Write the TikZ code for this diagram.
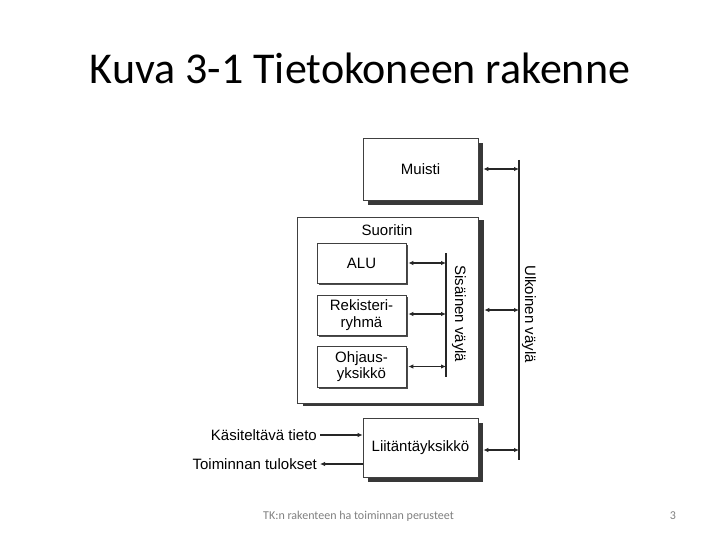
\documentclass[tikz,border=0pt]{standalone}
\usepackage{fontspec}
\setmainfont{Liberation Sans}
\newfontfamily\calibri{Carlito}
\usetikzlibrary{arrows.meta,shadows}
\begin{document}
\begin{tikzpicture}[x=1pt,y=-1pt,
  box/.style={draw=black!75, line width=0.7pt, fill=white, align=center, inner sep=0pt,
    font=\fontsize{15}{16.5}\selectfont},
  bigshadow/.style={drop shadow={shadow xshift=5pt, shadow yshift=-5pt, fill=black!78, opacity=1}},
  smallshadow/.style={drop shadow={shadow xshift=2pt, shadow yshift=-2pt, fill=black!70, opacity=1}},
  bus/.style={line width=1.3pt, black!85},
  conn/.style={line width=1.6pt, black!85, {Latex[length=5pt,width=4.5pt]}-{Latex[length=5pt,width=4.5pt]}},
  oneway/.style={line width=1.6pt, black!85, -{Latex[length=5pt,width=4.5pt]}},
  lbl/.style={font=\fontsize{15}{17}\selectfont, inner sep=0pt}
]
\useasboundingbox (0,0) rectangle (720,540);
\fill[white] (0,0) rectangle (720,540);

% title
\node[font=\calibri\fontsize{44}{48}\selectfont, anchor=base, inner sep=0pt] (title) at (360,84) {Kuva 3-1 Tietokoneen rakenne};

% boxes
\node[box, bigshadow, minimum width=115pt, minimum height=62pt] (muisti) at (420.5,169) {Muisti};
\node[box, drop shadow={shadow xshift=6pt, shadow yshift=-3pt, fill=black!78, opacity=1},
      minimum width=181pt, minimum height=186pt] (suoritin) at (387.5,310) {};
\node[lbl, anchor=base] (suoritinlbl) at (387,236) {Suoritin};
\node[box, smallshadow, minimum width=89pt, minimum height=40pt] (alu) at (361.5,263) {ALU};
\node[box, smallshadow, minimum width=89pt, minimum height=40pt] (rek) at (361.5,315) {Rekisteri-\\ryhmä};
\node[box, smallshadow, minimum width=89pt, minimum height=41pt] (ohj) at (361.5,366.5) {Ohjaus-\\yksikkö};
\node[box, bigshadow, minimum width=115pt, minimum height=59pt] (liit) at (420.5,447.5) {Liitäntäyksikkö};

% buses
\coordinate (ibTop) at (446,253);
\coordinate (ibBot) at (446,377);
\draw[bus] (ibTop) -- (ibBot);
\coordinate (ebTop) at (519,160);
\coordinate (ebBot) at (519,460);
\draw[bus] (ebTop) -- (ebBot);

\node[lbl, rotate=-90] (sis) at (459,314) {Sisäinen väylä};
\node[lbl, rotate=-90] (ulk) at (529,314) {Ulkoinen väylä};

% connectors to internal bus
\draw[conn] ([xshift=2pt]alu.east) -- (alu.east -| ibTop);
\draw[conn] ([xshift=2pt,yshift=1pt]rek.east) -- ([yshift=1pt]rek.east -| ibTop);
\draw[conn] ([xshift=2pt]ohj.east) -- (ohj.east -| ibTop);

% connectors to external bus
\draw[conn] ([xshift=5pt]muisti.east) -- (muisti.east -| ebTop);
\draw[conn] ([xshift=6pt]suoritin.east) -- (suoritin.east -| ebTop);
\draw[conn] ([xshift=5pt,yshift=-2.5pt]liit.east) -- ([yshift=-2.5pt]liit.east -| ebTop);

% I/O labels
\node[lbl, anchor=east] (kas) at (317,435) {Käsiteltävä tieto};
\node[lbl, anchor=east] (toim) at (317,464) {Toiminnan tulokset};
\draw[oneway] ([xshift=3pt]kas.east) -- (kas.east -| liit.west);
\draw[oneway] (toim.east -| liit.west) -- ([xshift=3pt]toim.east);

% footer
\node[font=\calibri\fontsize{12}{14}\selectfont, text=black!50, anchor=west, inner sep=0pt] (foot) at (263,516) {TK:n rakenteen ha toiminnan perusteet};
\node[font=\calibri\fontsize{12}{14}\selectfont, text=black!50, inner sep=0pt] (page) at (673,516) {3};
\end{tikzpicture}
\end{document}
